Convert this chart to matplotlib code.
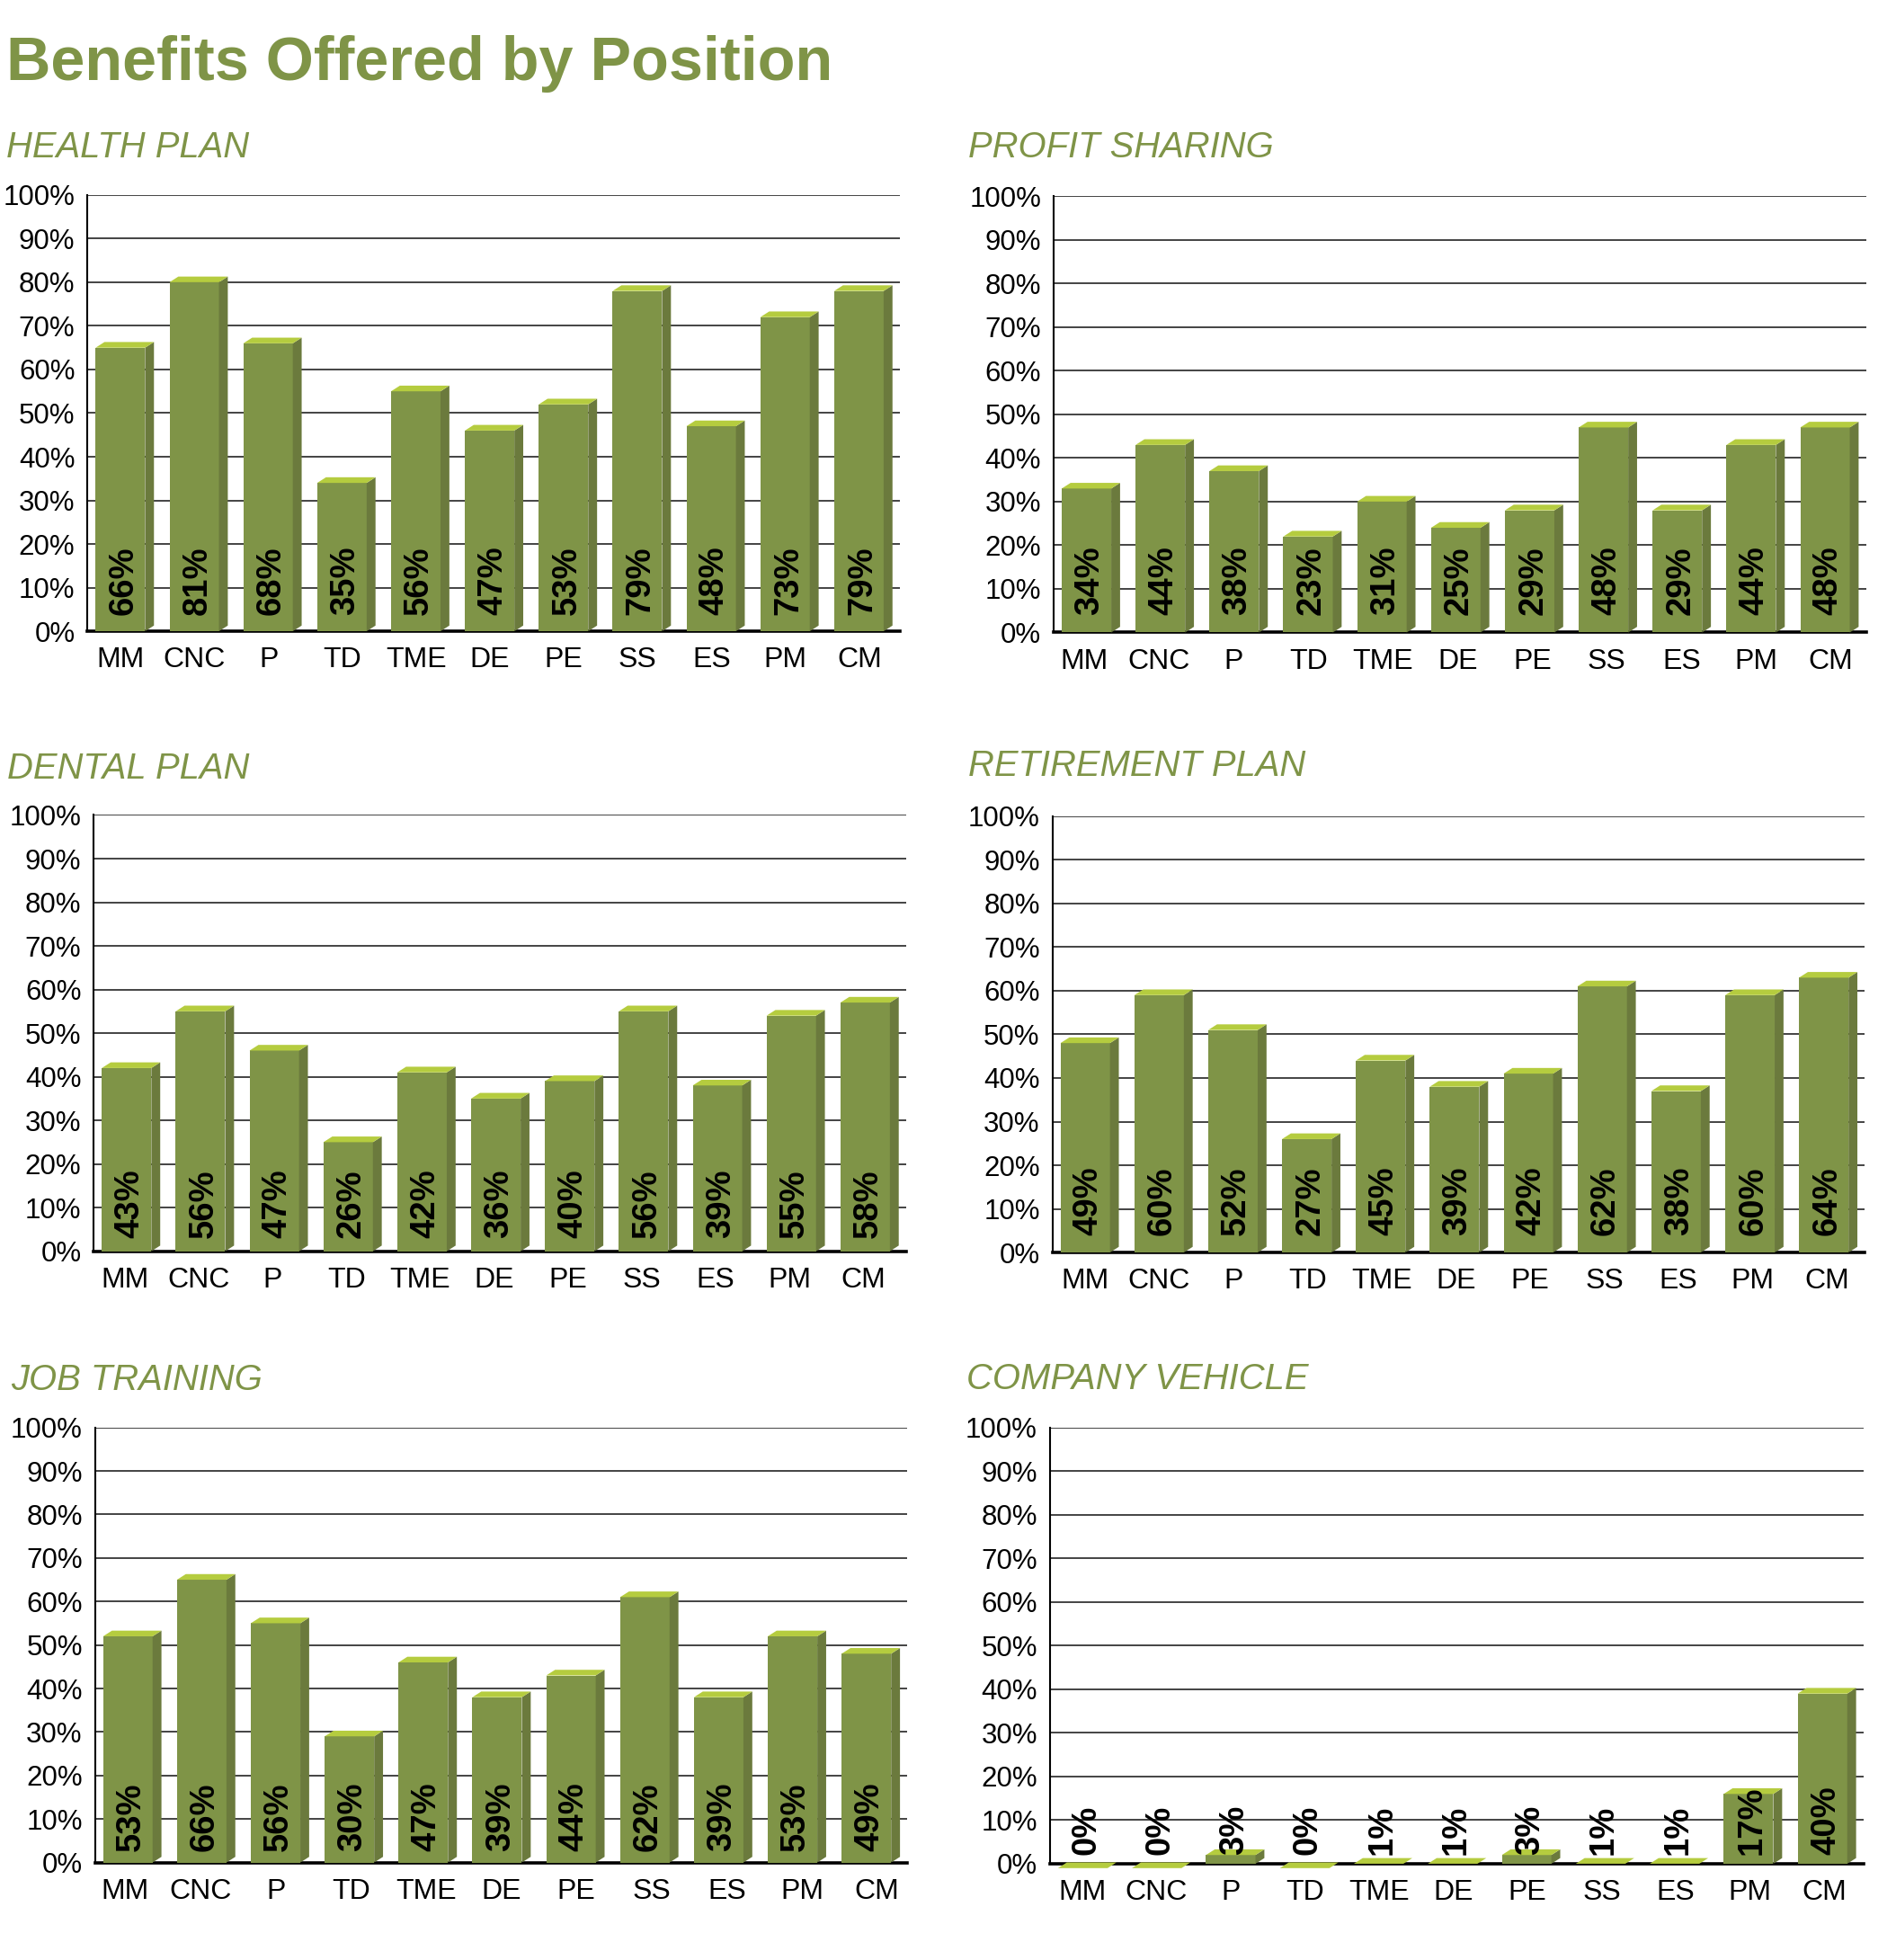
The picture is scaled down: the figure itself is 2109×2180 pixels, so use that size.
import matplotlib
matplotlib.use("Agg")
import matplotlib.pyplot as plt
from matplotlib.transforms import ScaledTranslation

W, H = 2109, 2180
SX, SY = 2109 / 1517, 2180 / 1568

categories = ["MM", "CNC", "P", "TD", "TME", "DE", "PE", "SS", "ES", "PM", "CM"]
yticks = list(range(0, 101, 10))

health_labels = [66, 81, 68, 35, 56, 47, 53, 79, 48, 73, 79]
health_heights = [65, 80, 66, 34, 55, 46, 52, 78, 47, 72, 78]
profit_labels = [34, 44, 38, 23, 31, 25, 29, 48, 29, 44, 48]
profit_heights = [33, 43, 37, 22, 30, 24, 28, 47, 28, 43, 47]
dental_labels = [43, 56, 47, 26, 42, 36, 40, 56, 39, 55, 58]
dental_heights = [42, 55, 46, 25, 41, 35, 39, 55, 38, 54, 57]
retire_labels = [49, 60, 52, 27, 45, 39, 42, 62, 38, 60, 64]
retire_heights = [48, 59, 51, 26, 44, 38, 41, 61, 37, 59, 63]
job_labels = [53, 66, 56, 30, 47, 39, 44, 62, 39, 53, 49]
job_heights = [52, 65, 55, 29, 46, 38, 43, 61, 38, 52, 48]
vehicle_labels = [0, 0, 3, 0, 1, 1, 3, 1, 1, 17, 40]
vehicle_heights = [-1, -1, 2, -1, 0, 0, 2, 0, 0, 16, 39]

FRONT = "#7F9447"
SIDE = "#6B7A3D"
TOP = "#B5CC3F"
TITLE = "#7F9447"
BAR_L, BAR_W, DX, DY = 0.11, 0.67, 0.12, 1.3

# title, heights, labels, left, right, top, bottom, title x, title y, label y, tick start, tick step
panels = [
    ("HEALTH PLAN", health_heights, health_labels, 70, 720, 156, 505, 5, 118, 3.7, 0.45, 1.0),
    ("PROFIT SHARING", profit_heights, profit_labels, 843, 1493, 157, 506, 775, 118, 4.0, 0.42, 1.01),
    ("DENTAL PLAN", dental_heights, dental_labels, 75, 725, 652, 1001, 6, 615, 3.1, 0.42, 1.0),
    ("RETIREMENT PLAN", retire_heights, retire_labels, 842, 1492, 653, 1002, 775, 613, 4.0, 0.44, 1.005),
    ("JOB TRAINING", job_heights, job_labels, 76, 726, 1142, 1490, 9, 1104, 2.6, 0.41, 1.018),
    ("COMPANY VEHICLE", vehicle_heights, vehicle_labels, 840, 1491, 1142, 1491, 773, 1103, 2.0, 0.44, 1.003),
]

plt.rcParams["font.family"] = ["Liberation Sans", "DejaVu Sans"]

fig = plt.figure(figsize=(W / 100, H / 100), dpi=100, facecolor="white")
fig.text(5 * SX / W, 1 - 51 * SY / H, "Benefits Offered by Position", color=TITLE,
         fontsize=49.2, fontweight="bold", ha="left", va="center")

for name, heights, labels, l, r, t, b, tx, ty, ly, t0, ts in panels:
    ax = fig.add_axes([l * SX / W, 1 - b * SY / H, (r - l) * SX / W, (b - t) * SY / H])
    ax.patch.set_alpha(0)
    ax.set_xlim(0, len(categories))
    ax.set_ylim(0, 100)
    for s in ("top", "right"):
        ax.spines[s].set_visible(False)
    ax.spines["left"].set_linewidth(1.5)
    ax.spines["bottom"].set_linewidth(2.6)
    ax.set_yticks(yticks)
    ax.set_yticklabels([f"{v}%" for v in yticks], fontsize=22.5)
    shift = ScaledTranslation(0, -2.5 / 100, fig.dpi_scale_trans)
    for lab in ax.get_yticklabels():
        lab.set_transform(lab.get_transform() + shift)
    ax.set_xticks([t0 + i * ts for i in range(len(categories))])
    ax.set_xticklabels(categories, fontsize=23)
    ax.tick_params(axis="y", length=0, pad=10)
    ax.tick_params(axis="x", length=0, pad=12.5)
    ax.set_axisbelow(True)
    ax.grid(axis="y", color="#111111", lw=1.1)
    ax.grid(axis="x", visible=False)
    for i, (h, lab) in enumerate(zip(heights, labels)):
        x0 = i + BAR_L
        x1 = x0 + BAR_W
        ax.bar(x0, max(h, 0), width=BAR_W, align="edge", color=FRONT, zorder=3)
        base = min(h, 0)
        ax.fill([x1, x1 + DX, x1 + DX, x1], [base, base + DY, h + DY, h],
                color=SIDE, lw=0, zorder=3, clip_on=False)
        ax.fill([x0, x1, x1 + DX, x0 + DX], [h, h, h + DY, h + DY],
                color=TOP, lw=0, zorder=3, clip_on=False)
        ax.text(i + 0.49, ly, f"{lab}%", rotation=90, ha="center", va="bottom",
                fontsize=27.5, fontweight="bold", color="black", zorder=4)
    fig.text(tx * SX / W, 1 - ty * SY / H, name, color=TITLE, fontsize=28.8,
             fontstyle="italic", ha="left", va="center")

fig.savefig("out.png", dpi=100)
